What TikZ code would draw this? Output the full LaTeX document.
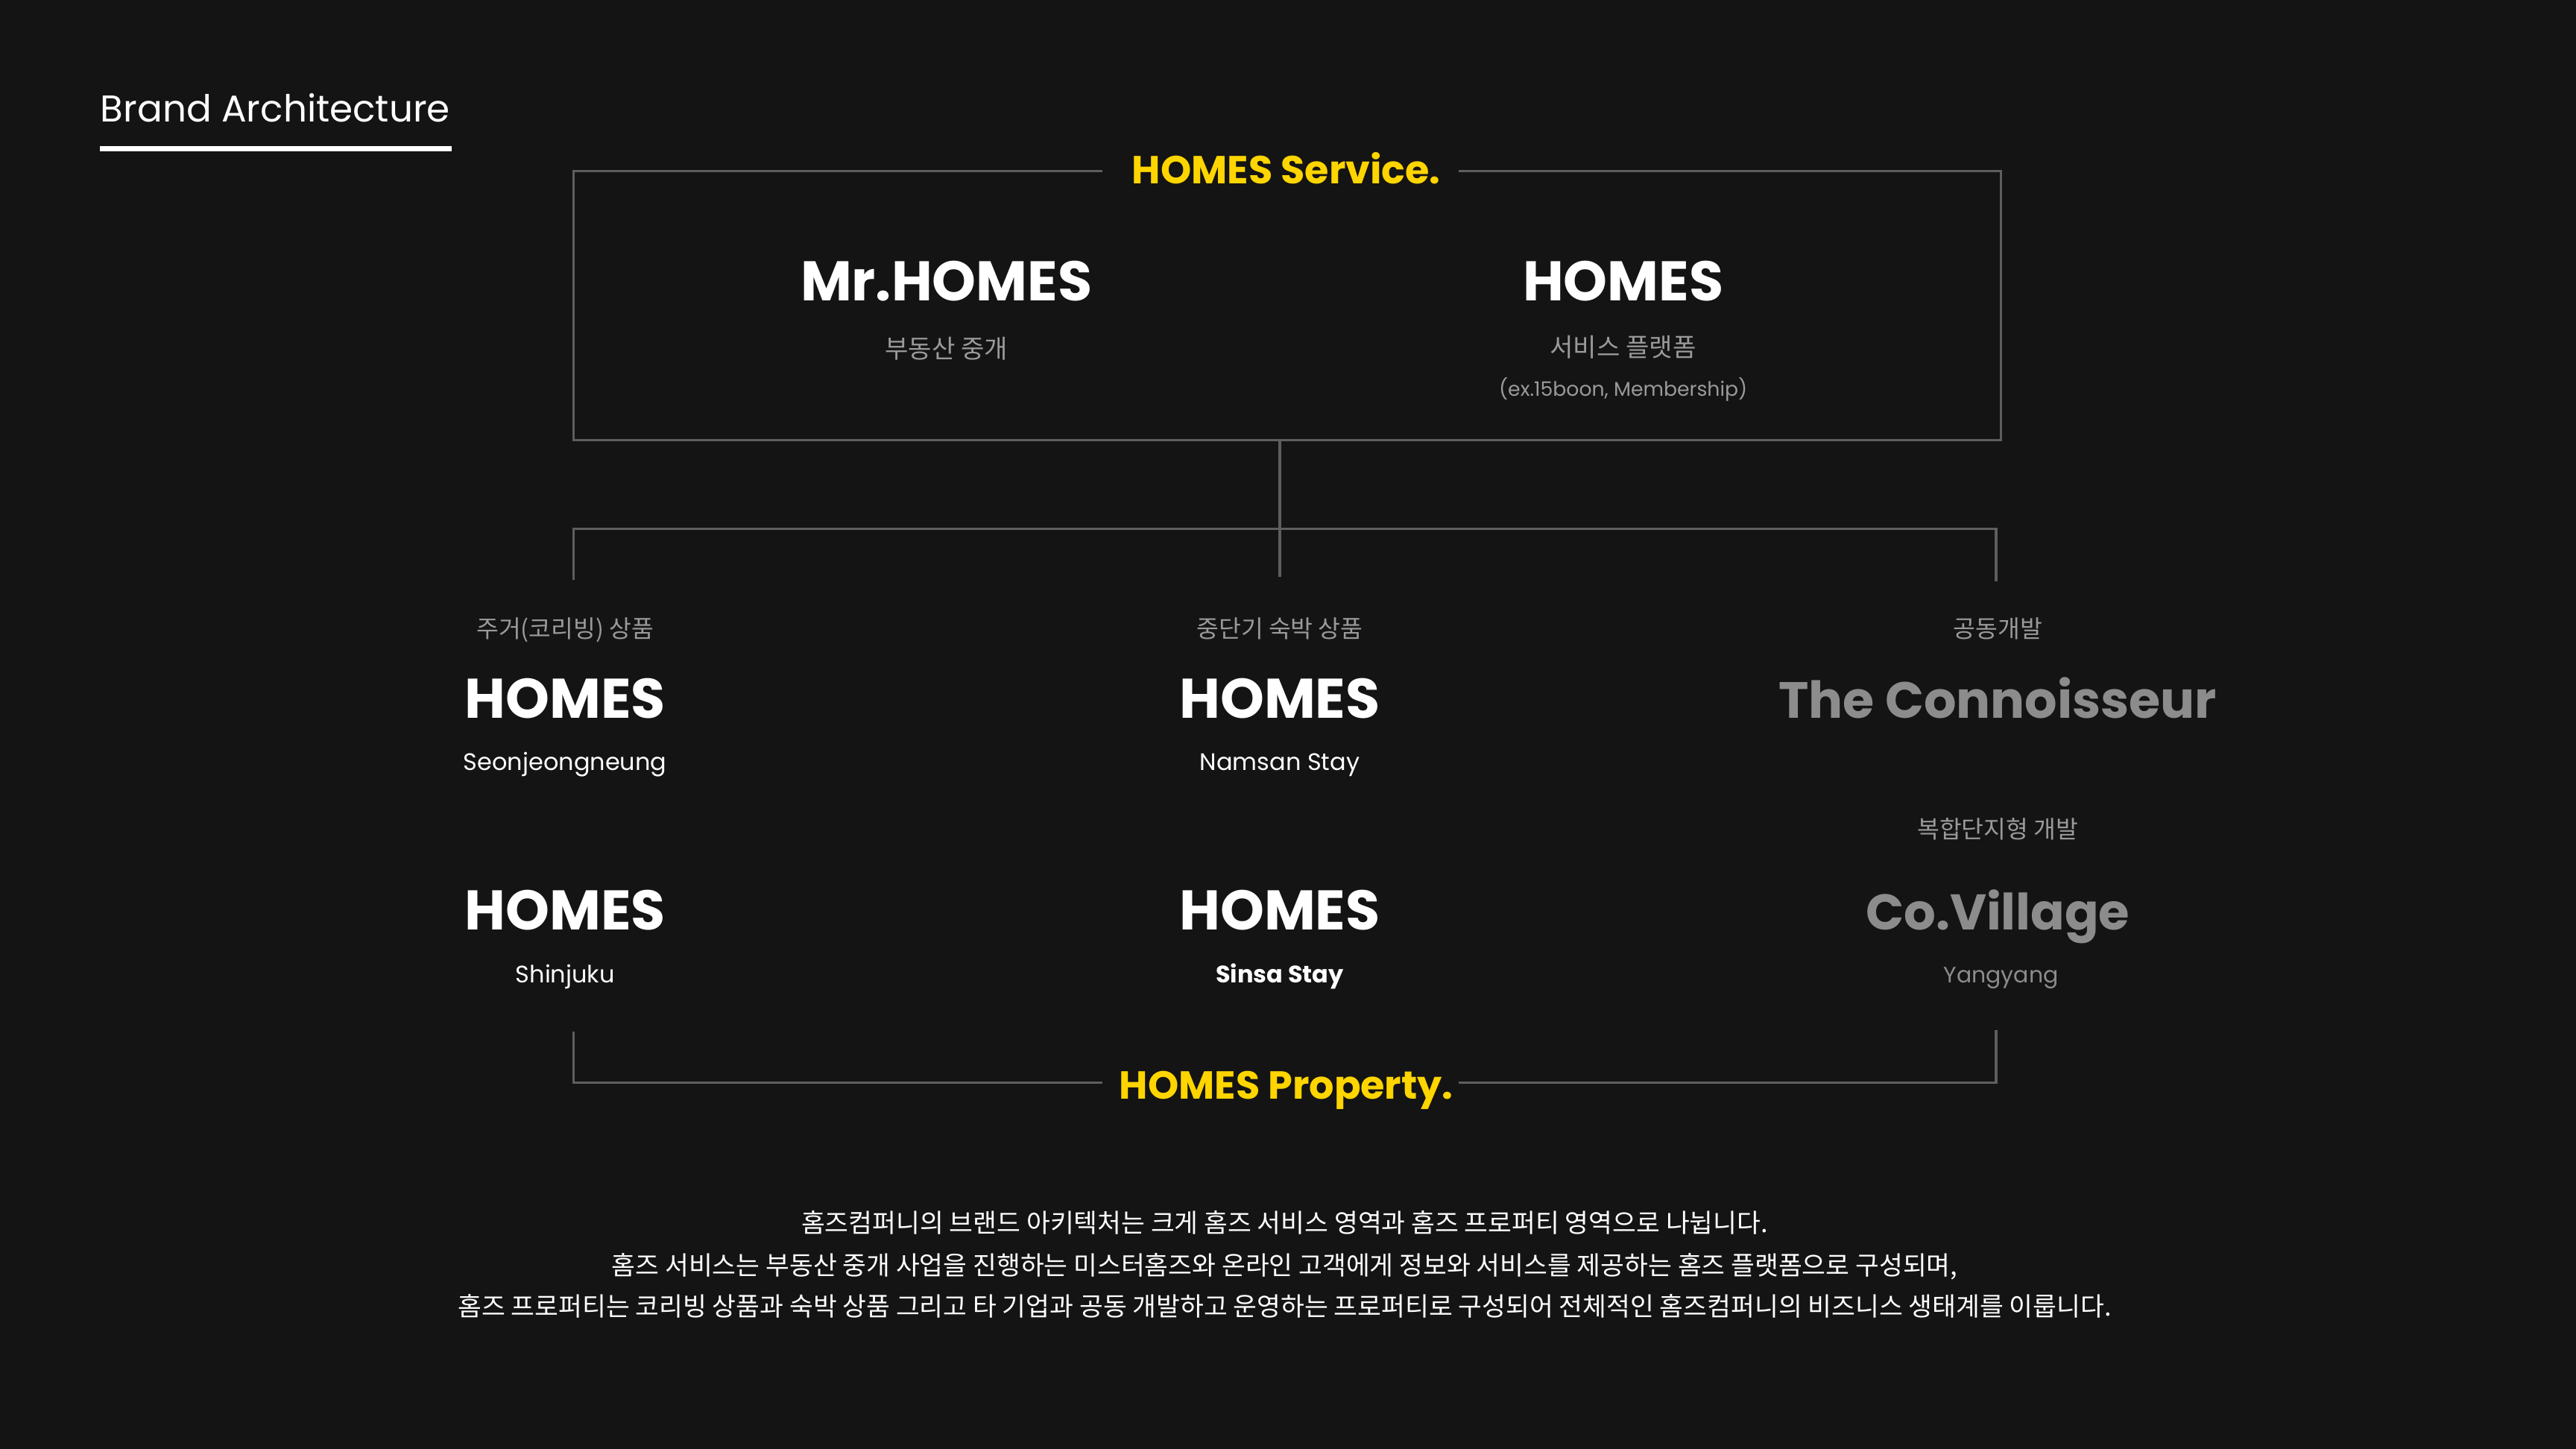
\documentclass[tikz,border=0pt]{standalone}
\usepackage{fontspec}
\setmainfont{Poppins}
\newfontfamily\kr{Noto Sans CJK KR}
\definecolor{bg}{HTML}{141414}
\definecolor{ln}{HTML}{5E5E5E}
\definecolor{yel}{HTML}{FFD500}
\definecolor{gtxt}{HTML}{8C8C8C}
\definecolor{klbl}{HTML}{9A9A9A}
\tikzset{
  lines/.style={draw=ln, line width=1.5pt},
  brand/.style={anchor=base, text=white, font=\fontsize{34}{34}\selectfont\bfseries, inner sep=0pt},
  gbrand/.style={brand, text=gtxt},
  sect/.style={anchor=base, text=yel, font=\fontsize{23.8}{23.8}\selectfont\bfseries, inner sep=0pt},
  sub/.style={anchor=base, text=white, font=\fontsize{14.5}{14.5}\selectfont, inner sep=0pt},
  krl/.style={anchor=base, text=klbl, font=\kr\fontsize{14.7}{14.7}\selectfont, inner sep=0pt},
  krm/.style={anchor=base, text=klbl, font=\kr\fontsize{15.5}{15.5}\selectfont, inner sep=0pt},
  para/.style={anchor=base, text=white, font=\kr\fontsize{15.7}{15.7}\selectfont, inner sep=0pt},
}
\begin{document}
\begin{tikzpicture}[x=1pt,y=-1pt]
\fill[bg] (0,0) rectangle (1568,882);
\useasboundingbox (0,0) rectangle (1568,882);
% title
\node[anchor=base west, text=white, font=\fontsize{22.7}{22.7}\selectfont, inner sep=0pt] (title) at (61,74) {Brand Architecture};
\coordinate (ul1) at (61,90.5);
\coordinate (ul2) at (275,90.5);
\draw[white, line width=3pt] (ul1) -- (ul2);
% service box
\node[sect] (svc) at (783,112) {HOMES Service.};
\coordinate (b1) at (671,104);
\coordinate (b2) at (349,104);
\coordinate (b3) at (349,268);
\coordinate (b4) at (1218,268);
\coordinate (b5) at (1218,104);
\coordinate (b6) at (888,104);
\draw[lines] (b1) -- (b2) -- (b3) -- (b4) -- (b5) -- (b6);
\node[brand] (mr) at (576,183) {Mr.HOMES};
\node[krm] (mrs) at (576,218) {부동산 중개};
\node[brand] (hs) at (988,183) {HOMES};
\node[krm] (hss) at (988,217) {서비스 플랫폼};
\node[anchor=base, text=klbl, font=\fontsize{12.1}{12.1}\selectfont, inner sep=0pt] (hsx) at (988,241) {(ex.15boon, Membership)};
% tree
\coordinate (t0) at (779,268);
\coordinate (t1) at (779,351);
\coordinate (tl) at (349,322);
\coordinate (tr) at (1215,322);
\coordinate (tlb) at (349,353);
\coordinate (trb) at (1215,354);
\draw[lines] (t0) -- (t1);
\draw[lines] (tlb) -- (tl) -- (tr) -- (trb);
% row 1
\node[krl] (l1) at (344,388) {주거(코리빙) 상품};
\node[krl] (l2) at (779,388) {중단기 숙박 상품};
\node[krl] (l3) at (1216,388) {공동개발};
\node[brand] (h1) at (344,437) {HOMES};
\node[brand] (h2) at (779,437) {HOMES};
\node[gbrand, font=\fontsize{31}{31}\selectfont\bfseries] (h3) at (1216,437) {The Connoisseur};
\node[sub] (s1) at (344,469) {Seonjeongneung};
\node[sub] (s2) at (779,469) {Namsan Stay};
\node[krl] (l4) at (1216,510) {복합단지형 개발};
% row 2
\node[brand] (h4) at (344,566) {HOMES};
\node[brand] (h5) at (779,566) {HOMES};
\node[gbrand, font=\fontsize{30.5}{30.5}\selectfont\bfseries] (h6) at (1216,566) {Co.Village};
\node[sub] (s4) at (344,598) {Shinjuku};
\node[sub, font=\fontsize{14.5}{14.5}\selectfont\bfseries] (s5) at (779,598) {Sinsa Stay};
\node[sub, text=gtxt, font=\fontsize{13.6}{13.6}\selectfont] (s6) at (1218,598) {Yangyang};
% property bracket
\node[sect] (prop) at (783,669) {HOMES Property.};
\coordinate (p1) at (349,628);
\coordinate (p2) at (349,659);
\coordinate (p3) at (671,659);
\coordinate (p4) at (888,659);
\coordinate (p5) at (1215,659);
\coordinate (p6) at (1215,627);
\draw[lines] (p1) -- (p2) -- (p3);
\draw[lines] (p4) -- (p5) -- (p6);
% paragraph
\node[para] (pa1) at (782,750) {홈즈컴퍼니의 브랜드 아키텍처는 크게 홈즈 서비스 영역과 홈즈 프로퍼티 영역으로 나뉩니다.};
\node[para] (pa2) at (782,776) {홈즈 서비스는 부동산 중개 사업을 진행하는 미스터홈즈와 온라인 고객에게 정보와 서비스를 제공하는 홈즈 플랫폼으로 구성되며,};
\node[para] (pa3) at (782,801) {홈즈 프로퍼티는 코리빙 상품과 숙박 상품 그리고 타 기업과 공동 개발하고 운영하는 프로퍼티로 구성되어 전체적인 홈즈컴퍼니의 비즈니스 생태계를 이룹니다.};
\end{tikzpicture}
\end{document}
